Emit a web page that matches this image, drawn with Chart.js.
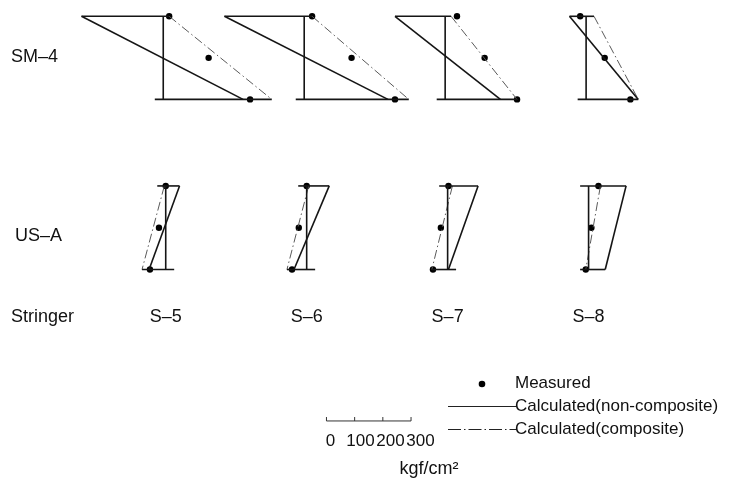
<!DOCTYPE html>
<html><head><meta charset="utf-8">
<script src="https://cdn.jsdelivr.net/npm/chart.js@4/dist/chart.umd.min.js"></script>
<style>html,body{margin:0;padding:0;background:#fff;}canvas{display:block}</style>
</head><body>
<canvas id="c" width="737" height="482"></canvas>
<script>
// ---- data (stresses in kgf/cm2) ----
const stringers = ['S–5', 'S–6', 'S–7', 'S–8'];
const rowLabels = ['SM–4', 'US–A'];
const stringerTitle = 'Stringer';
// [top, bottom]
const sm4NonComposite = [[-290, 283], [-283, 297], [-178, 196], [-59, 185]];
const sm4Composite    = [[21, 385], [28, 371], [21, 255], [28, 185]];
// [top, mid, bottom]
const sm4Measured     = [[21, 161, 308], [28, 168, 322], [42, 140, 255], [-21, 66, 157]];
const usaNonComposite = [[49, -59], [80, -45], [108, 3], [133, 59]];
const usaComposite    = [[-5, -84], [7, -70], [17, -56], [42, -10]];
const usaMeasured     = [[0, -24, -56], [0, -28, -52], [3, -24, -52], [35, 10, -10]];
const scaleTicks = [0, 100, 200, 300];
const scaleUnit = 'kgf/cm²';
const legendLabels = ['Measured', 'Calculated(non-composite)', 'Calculated(composite)'];

// ---- layout ----
const PX_PER_UNIT = 0.285;
const X_RANGE = 737 / PX_PER_UNIT;
const SPACING = 500;               // stress units between diagrams
const ROWS = [
  {offset: 161 / PX_PER_UNIT, top: 12.5, bot: 97, nc: sm4NonComposite, c: sm4Composite, m: sm4Measured},
  {offset: 163.5 / PX_PER_UNIT, top: 185, bot: 270, nc: usaNonComposite, c: usaComposite, m: usaMeasured}
];
const EXT = 30;
const SCALE_ORIGIN = 326 / PX_PER_UNIT;
const SCALE_Y = 424, SCALE_TICK_Y = 420;
const DARK = '#151515', GREY = '#5a5a5a';
const DASHDOT = [9, 3, 1.5, 3];

function seg(a, b, color, width, dash) {
  return {data: [a, b], showLine: true, borderColor: color, borderWidth: width,
          borderDash: dash || [], pointRadius: 0, fill: false, borderCapStyle: 'butt'};
}

const datasets = [];
ROWS.forEach(r => {
  const mid = (r.top + r.bot) / 2;
  r.nc.forEach((nc, i) => {
    const o = r.offset + i * SPACING;
    const c = r.c[i], m = r.m[i];
    // frame: zero line, top and bottom flanges
    datasets.push(seg({x: o, y: r.top}, {x: o, y: r.bot}, DARK, 1.6));
    datasets.push(seg({x: o + Math.min(nc[0], c[0], -EXT), y: r.top},
                      {x: o + Math.max(nc[0], c[0], 0), y: r.top}, DARK, 1.6));
    datasets.push(seg({x: o + Math.min(nc[1], c[1], -EXT), y: r.bot},
                      {x: o + Math.max(nc[1], c[1], EXT), y: r.bot}, DARK, 1.6));
    // non-composite
    datasets.push(seg({x: o + nc[0], y: r.top}, {x: o + nc[1], y: r.bot}, DARK, 1.6));
    // composite
    datasets.push(seg({x: o + c[0], y: r.top}, {x: o + c[1], y: r.bot}, GREY, 1, DASHDOT));
    // measured
    datasets.push({data: [{x: o + m[0], y: r.top}, {x: o + m[1], y: mid}, {x: o + m[2], y: r.bot}],
                   showLine: false, pointRadius: 3.2, pointBorderWidth: 0,
                   backgroundColor: '#000', borderColor: '#000'});
  });
});
// scale bar
datasets.push(seg({x: SCALE_ORIGIN + scaleTicks[0], y: SCALE_Y},
                  {x: SCALE_ORIGIN + scaleTicks[scaleTicks.length - 1], y: SCALE_Y}, '#333', 1));
scaleTicks.forEach(t => datasets.push(seg({x: SCALE_ORIGIN + t, y: SCALE_Y}, {x: SCALE_ORIGIN + t, y: SCALE_TICK_Y}, '#333', 1)));

const FONT = '"Liberation Sans", Arial, Helvetica, sans-serif';
const textPlugin = {
  id: 'texts',
  afterDatasetsDraw(chart) {
    const {ctx, scales: {x}} = chart;
    ctx.save();
    ctx.fillStyle = '#111';
    ctx.textBaseline = 'middle';
    ctx.textAlign = 'left';
    ctx.font = '18px ' + FONT;
    ctx.fillText(rowLabels[0], 11, 57);
    ctx.fillText(rowLabels[1], 15, 236);
    ctx.fillText(stringerTitle, 11, 317);
    ctx.textAlign = 'center';
    stringers.forEach((s, i) => ctx.fillText(s, x.getPixelForValue(ROWS[1].offset + i * SPACING), 317));
    // scale labels (typeset slightly wider than the ticks)
    ctx.font = '17px ' + FONT;
    const p0 = x.getPixelForValue(SCALE_ORIGIN);
    scaleTicks.forEach(t => ctx.fillText(String(t), p0 + 4 + (x.getPixelForValue(SCALE_ORIGIN + t) - p0) * 1.065, 441));
    ctx.font = '18px ' + FONT;
    ctx.fillText(scaleUnit, 429, 469);
    // legend
    ctx.textAlign = 'left';
    ctx.font = '17px ' + FONT;
    ctx.beginPath(); ctx.arc(482, 384, 3.3, 0, Math.PI * 2); ctx.fillStyle = '#000'; ctx.fill();
    ctx.fillStyle = '#111';
    ctx.fillText(legendLabels[0], 515, 383);
    ctx.strokeStyle = '#222'; ctx.lineWidth = 1;
    ctx.beginPath(); ctx.moveTo(448, 406.5); ctx.lineTo(516, 406.5); ctx.stroke();
    ctx.fillText(legendLabels[1], 515, 406);
    ctx.setLineDash([13, 3, 1.5, 3]);
    ctx.beginPath(); ctx.moveTo(448, 429.5); ctx.lineTo(516, 429.5); ctx.stroke();
    ctx.setLineDash([]);
    ctx.fillText(legendLabels[2], 515, 429);
    ctx.restore();
  }
};

new Chart(document.getElementById('c'), {
  type: 'scatter',
  data: {datasets},
  options: {
    responsive: false, animation: false,
    layout: {padding: 0},
    plugins: {legend: {display: false}, tooltip: {enabled: false}},
    scales: {
      x: {type: 'linear', display: false, min: 0, max: X_RANGE},
      y: {type: 'linear', display: false, min: 0, max: 482, reverse: true}
    },
    elements: {line: {tension: 0}}
  },
  plugins: [textPlugin]
});
</script>
</body></html>
